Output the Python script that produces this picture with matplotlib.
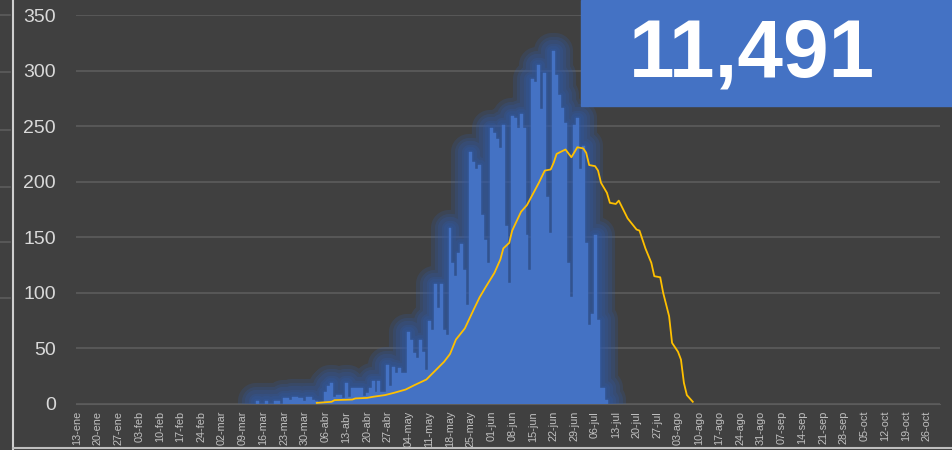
import numpy as np
import pandas as pd
import matplotlib
matplotlib.use("Agg")
import matplotlib.pyplot as plt
import matplotlib.dates as mdates
from matplotlib.lines import Line2D
from matplotlib.patches import Rectangle

plt.rcParams['font.family'] = ['Liberation Sans', 'DejaVu Sans']

# casos diarios (barras), por mes, desde el 14-mar
diarios_mar = [3, 0, 0, 3, 0, 0, 3, 3, 0, 5, 5, 4, 6, 6, 5, 5, 3, 6]
diarios_abr = [6, 4, 3, 2, 2, 11, 16, 19, 6, 8, 8, 5, 19, 6, 14, 14, 14, 14, 7, 10,
               14, 21, 11, 21, 11, 11, 35, 16, 33, 28]
diarios_may = [32, 28, 28, 65, 58, 46, 41, 58, 47, 31, 75, 67, 108, 86, 108, 67, 62,
               158, 127, 115, 136, 144, 121, 89, 227, 218, 211, 215, 170, 148, 127]
diarios_jun = [248, 244, 238, 230, 251, 160, 109, 259, 257, 248, 261, 248, 152, 121,
               292, 290, 305, 265, 298, 186, 154, 318, 296, 278, 266, 253, 127, 96,
               251, 257]
diarios_jul = [211, 232, 145, 71, 81, 152, 76, 14, 14, 4]
inicio_barras = "2020-03-14"

# promedio (linea amarilla)
linea_fechas = ["2020-04-03", "2020-04-08", "2020-04-09", "2020-04-15", "2020-04-16",
                "2020-04-20", "2020-04-22", "2020-04-26", "2020-04-29", "2020-05-03",
                "2020-05-06", "2020-05-10", "2020-05-13", "2020-05-16", "2020-05-18",
                "2020-05-20", "2020-05-23", "2020-05-26", "2020-05-28", "2020-05-30",
                "2020-06-02", "2020-06-04", "2020-06-05", "2020-06-07", "2020-06-08",
                "2020-06-11", "2020-06-13", "2020-06-17", "2020-06-19", "2020-06-21",
                "2020-06-22", "2020-06-23", "2020-06-26", "2020-06-28", "2020-06-30",
                "2020-07-02", "2020-07-03", "2020-07-04", "2020-07-06", "2020-07-07",
                "2020-07-08", "2020-07-10", "2020-07-11", "2020-07-13", "2020-07-14",
                "2020-07-17", "2020-07-20", "2020-07-21", "2020-07-23", "2020-07-25",
                "2020-07-26", "2020-07-28", "2020-07-29", "2020-07-31", "2020-08-01",
                "2020-08-03", "2020-08-04", "2020-08-05", "2020-08-06", "2020-08-08"]
linea_valores = [1, 2, 3.5, 4, 5, 5.5, 6.5, 8, 10, 13,
                 17, 22, 30, 38, 45, 58, 68, 85, 96, 105,
                 118, 130, 140, 145, 156, 173, 179, 199, 210, 211,
                 217, 225, 229, 222, 231, 230, 226, 215, 214, 210,
                 199, 190, 181, 180, 183, 167, 157, 156, 140, 127,
                 115, 114, 100, 79, 55, 47, 40, 19, 8, 2]

total_texto = "11,491"
meses_es = ["ene", "feb", "mar", "abr", "may", "jun", "jul", "ago", "sep", "oct", "nov", "dic"]
ticks_y = [0, 50, 100, 150, 200, 250, 300, 350]

fondo = "#404040"
azul = "#4472C4"
brillo = "#2F5DAE"
amarillo = "#FFC000"

valores = diarios_mar + diarios_abr + diarios_may + diarios_jun + diarios_jul
fechas = pd.date_range(inicio_barras, periods=len(valores), freq="D")
xnum = mdates.date2num(fechas)
bordes = np.append(xnum - 0.5, xnum[-1] + 0.5)

W, H = 953, 450
fig = plt.figure(figsize=(W / 100, H / 100), dpi=100, facecolor=fondo)
ax = fig.add_axes([75.5 / W, 1 - 404 / H, (940 - 75.5) / W, (404 - 15) / H])
ax.set_facecolor(fondo)

# resplandor alrededor de las barras (capas semitransparentes)
for lw in [26, 21, 16, 11, 7, 3]:
    ax.stairs(valores, bordes, fill=True, facecolor="none", edgecolor=brillo,
              linewidth=lw, alpha=0.2, joinstyle="round", zorder=2)

ax.bar(fechas, valores, width=1.0, color=azul, edgecolor=azul, linewidth=0.3, zorder=3)
ax.plot(pd.to_datetime(linea_fechas), linea_valores, color=amarillo, lw=1.3, zorder=4)

ax.set_ylim(0, 350)
ax.set_xlim(mdates.date2num(pd.Timestamp("2020-01-12 12:00")),
            mdates.date2num(pd.Timestamp("2020-10-30 12:00")))
ax.set_yticks(ticks_y)
ax.grid(axis="y", color="#5c5c5c", lw=1.2, zorder=0)
ax.set_axisbelow(True)

ticks_x = pd.date_range("2020-01-13", "2020-10-26", freq="7D")
etiquetas_x = [f"{d.day:02d}-{meses_es[d.month - 1]}" for d in ticks_x]
ax.set_xticks(ticks_x)
ax.set_xticklabels(etiquetas_x, rotation=90, fontsize=7.8, color="#c0c0c0")
ax.tick_params(axis="x", length=0, pad=5)
ax.tick_params(axis="y", length=0, pad=14, labelsize=14, labelcolor="#d9d9d9")
for s in ["top", "right", "left"]:
    ax.spines[s].set_visible(False)
ax.spines["bottom"].set_color("#5c5c5c")

# marco de la captura
fig.add_artist(Line2D([13.5 / W, 13.5 / W], [0, 1], color="#cfcfcf", lw=1.5))
fig.add_artist(Line2D([13 / W, 1], [1 - 447.5 / H, 1 - 447.5 / H], color="#bfbfbf", lw=1.5))
for yy in [15, 72, 130, 187, 242, 298]:
    fig.add_artist(Line2D([0, 10 / W], [1 - yy / H, 1 - yy / H], color="#5c5c5c", lw=1.2))

# recuadro con el total
fig.add_artist(Rectangle((581 / W, 1 - 106 / H), (W - 581) / W, 106 / H,
                         transform=fig.transFigure, color=azul, zorder=5))
fig.text(752 / W, 1 - 76.5 / H, total_texto, ha="center", va="baseline",
         fontsize=59, fontweight="bold", color="white", zorder=6)

fig.savefig("out.png", dpi=100, facecolor=fondo)
